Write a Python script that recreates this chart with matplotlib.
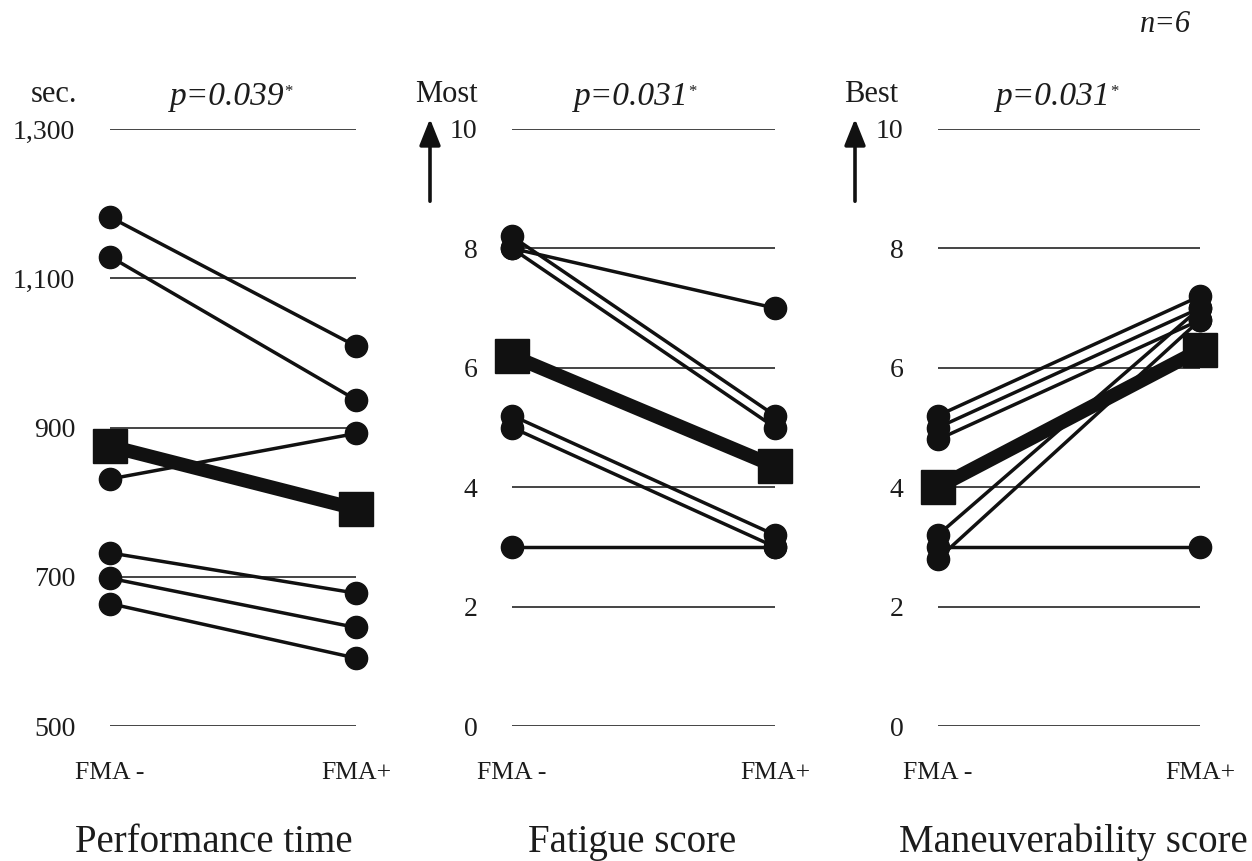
import matplotlib
matplotlib.use("Agg")
import matplotlib.pyplot as plt

# ---------------- data ----------------
conditions = ["FMA -", "FMA+"]

perf_minus = [1182, 1129, 831, 732, 698, 664]
perf_plus = [1009, 937, 892, 678, 632, 591]
perf_mean = [875, 791]
perf_ticks = [500, 700, 900, 1100, 1300]
perf_ticklabels = ["500", "700", "900", "1,100", "1,300"]

fatigue_minus = [8.0, 8.2, 8.0, 5.2, 5.0, 3.0]
fatigue_plus = [7.0, 5.2, 5.0, 3.2, 3.0, 3.0]
fatigue_mean = [6.2, 4.35]

maneuver_minus = [5.2, 5.0, 4.8, 3.2, 2.8, 3.0]
maneuver_plus = [7.2, 7.0, 6.8, 7.0, 6.8, 3.0]
maneuver_mean = [4.0, 6.3]

score_ticks = [0, 2, 4, 6, 8, 10]
score_ticklabels = ["0", "2", "4", "6", "8", "10"]

titles = ["Performance time", "Fatigue score", "Maneuverability score"]
pvalues = ["p=0.039", "p=0.031", "p=0.031"]
unit_labels = ["sec.", "Most", "Best"]
n_label = "n=6"

# ---------------- figure ----------------
W, H = 1252, 861
fig = plt.figure(figsize=(W / 100, H / 100), dpi=100)
plt.rcParams["font.family"] = ["Liberation Serif", "DejaVu Serif"]

def fx(px):
    return px / W

def fy(py):
    return 1 - py / H

top_px, bot_px = 129, 726
panels_px = [(110, 356), (512, 775), (938, 1200)]
ylims = [(500, 1300), (0, 10), (0, 10)]

series = [
    (perf_minus, perf_plus, perf_mean, perf_ticks, perf_ticklabels),
    (fatigue_minus, fatigue_plus, fatigue_mean, score_ticks, score_ticklabels),
    (maneuver_minus, maneuver_plus, maneuver_mean, score_ticks, score_ticklabels),
]

ink = "#111111"
txt = "#1c1c1c"
axes = []
for i, ((x0, x1), ylim, (mi, pl, mean, ticks, tlabels)) in enumerate(zip(panels_px, ylims, series)):
    ax = fig.add_axes([fx(x0), fy(bot_px), (x1 - x0) / W, (bot_px - top_px) / H])
    axes.append(ax)
    ax.set_xlim(0, 1)
    ax.set_ylim(*ylim)
    for s in ax.spines.values():
        s.set_visible(False)
    ax.set_yticks(ticks)
    ax.set_yticklabels(tlabels)
    ax.set_xticks([0, 1])
    ax.set_xticklabels(conditions)
    ax.tick_params(axis="y", length=0, pad=25, labelsize=20, labelcolor=txt)
    ax.tick_params(axis="x", length=0, pad=26, labelsize=18.5, labelcolor=txt)
    ax.grid(axis="y", color="#444444", linewidth=1.4)
    ax.grid(axis="x", visible=False)
    ax.set_axisbelow(True)
    for a, b in zip(mi, pl):
        ax.plot([0, 1], [a, b], color=ink, linewidth=2.5, marker="o",
                markersize=16, markerfacecolor=ink, markeredgecolor=ink,
                clip_on=False, zorder=3)
    ax.plot([0, 1], mean, color=ink, linewidth=10, marker="s", markersize=25,
            markerfacecolor=ink, markeredgecolor=ink, clip_on=False, zorder=4,
            solid_capstyle="butt")

# p-values
p_centers = [232, 636, 1058]
for pc, pv in zip(p_centers, pvalues):
    t = fig.text(fx(pc - 5), fy(97), pv, fontsize=24, style="italic",
                 ha="center", va="center", color=txt)
    fig.add_artist(matplotlib.text.Annotation(
        "*", xy=(1.0, 0.92), xycoords=t, fontsize=12, ha="left", va="top",
        color=txt, annotation_clip=False))

# unit labels
fig.text(fx(77), fy(95), unit_labels[0], fontsize=22, ha="right", va="center", color=txt)
fig.text(fx(446), fy(95), unit_labels[1], fontsize=22, ha="center", va="center", color=txt)
fig.text(fx(871), fy(95), unit_labels[2], fontsize=22, ha="center", va="center", color=txt)

# arrows
for ax_x in [430, 855]:
    fig.add_artist(matplotlib.patches.FancyArrowPatch(
        (fx(ax_x), fy(204)), (fx(ax_x), fy(116)), transform=fig.transFigure,
        arrowstyle="-|>,head_length=0.8,head_width=0.32", mutation_scale=20,
        linewidth=2.6, color=ink))

# titles
title_centers = [214, 632, 1073]
for tc, tt in zip(title_centers, titles):
    fig.text(fx(tc), fy(852), tt, fontsize=28, ha="center", va="baseline", color=txt)

# n label
fig.text(fx(1165), fy(24), n_label, fontsize=22, style="italic", ha="center",
         va="center", color=txt)

fig.savefig("out.png", dpi=100, facecolor="white")
